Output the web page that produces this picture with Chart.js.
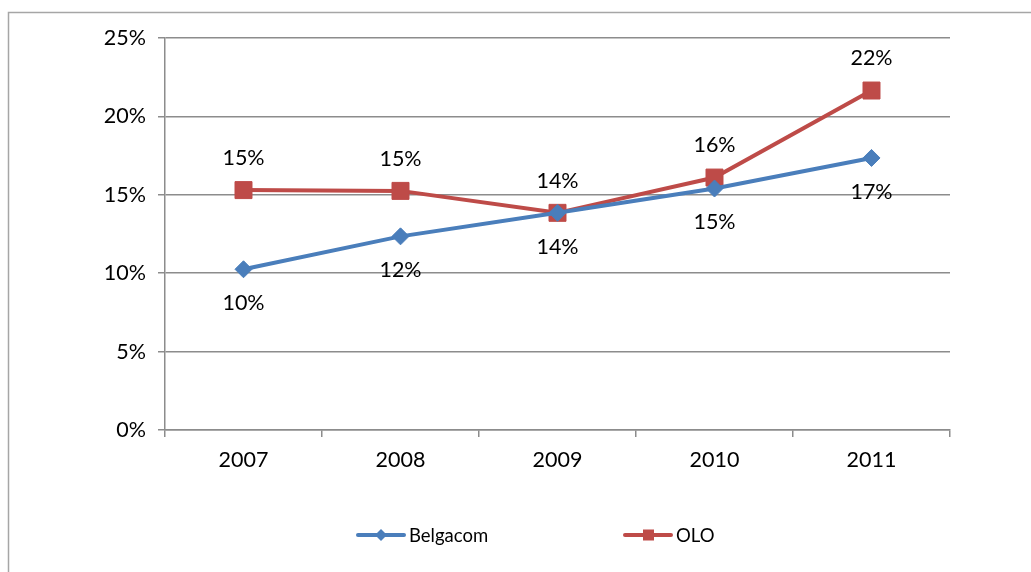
<!DOCTYPE html>
<html>
<head>
<meta charset="utf-8">
<script src="https://cdn.jsdelivr.net/npm/chart.js@4.4.1/dist/chart.umd.min.js"></script>
<style>
  html, body { margin: 0; padding: 0; background: #fff; }
  #wrap { width: 1031px; height: 572px; position: relative; }
</style>
</head>
<body>
<div id="wrap"><canvas id="myChart" width="1031" height="572"></canvas></div>
<script>
var years = ['2007', '2008', '2009', '2010', '2011'];
var belgacom = [10.25, 12.35, 13.85, 15.4, 17.35];
var olo = [15.3, 15.25, 13.85, 16.1, 21.65];
var yTicks = [0, 5, 10, 15, 20, 25];

var FONT = 'Lato, "Open Sans", sans-serif';
var GRID = '#8c8c8c';

// data labels: Belgacom under its points, OLO above
var labelPlugin = {
    id: 'valueLabels',
    afterDatasetsDraw: function (chart) {
        var ctx = chart.ctx;
        ctx.save();
        ctx.font = '21.5px ' + FONT;
        ctx.fillStyle = '#000';
        ctx.textAlign = 'center';
        ctx.textBaseline = 'middle';
        chart.data.datasets.forEach(function (ds, i) {
            var meta = chart.getDatasetMeta(i);
            var dy = i === 0 ? 34 : -32;
            meta.data.forEach(function (pt, j) {
                ctx.fillText(Math.round(ds.data[j]) + '%', pt.x, pt.y + dy);
            });
        });
        ctx.restore();
    }
};

// outer frame + legend with line-and-marker swatches
var framePlugin = {
    id: 'frameLegend',
    afterDraw: function (chart) {
        var ctx = chart.ctx;
        ctx.save();
        ctx.strokeStyle = '#a6a6a6';
        ctx.lineWidth = 1.5;
        ctx.beginPath();
        ctx.moveTo(8.5, 600);
        ctx.lineTo(8.5, 12.5);
        ctx.lineTo(1100, 12.5);
        ctx.stroke();

        var starts = [358, 625];
        var y = 535;
        ctx.font = '18.5px ' + FONT;
        ctx.textBaseline = 'middle';
        ctx.textAlign = 'left';
        chart.data.datasets.forEach(function (ds, i) {
            var x0 = starts[i];
            ctx.strokeStyle = ds.borderColor;
            ctx.lineWidth = 4;
            ctx.lineCap = 'round';
            ctx.beginPath();
            ctx.moveTo(x0, y);
            ctx.lineTo(x0 + 46, y);
            ctx.stroke();
            ctx.fillStyle = ds.pointBackgroundColor;
            ctx.beginPath();
            if (i === 0) {
                ctx.moveTo(x0 + 23, y - 6);
                ctx.lineTo(x0 + 29, y);
                ctx.lineTo(x0 + 23, y + 6);
                ctx.lineTo(x0 + 17, y);
                ctx.closePath();
            } else {
                ctx.rect(x0 + 18, y - 5.5, 11, 11);
            }
            ctx.fill();
            ctx.fillStyle = '#000';
            ctx.fillText(ds.label, x0 + 51, y + 1);
        });
        ctx.restore();
    }
};

var ctx = document.getElementById('myChart').getContext('2d');

var myChart = new Chart(ctx, {
    type: 'line',
    data: {
        labels: years,
        datasets: [{
            label: 'Belgacom',
            data: belgacom,
            borderColor: '#4a7ebb',
            backgroundColor: '#4a7ebb',
            pointBackgroundColor: '#4a7ebb',
            pointBorderColor: '#4a7ebb',
            borderWidth: 4,
            pointStyle: 'rectRot',
            pointRadius: 8.5,
            pointBorderWidth: 1,
            tension: 0,
            fill: false
        }, {
            label: 'OLO',
            data: olo,
            borderColor: '#be4b48',
            backgroundColor: '#be4b48',
            pointBackgroundColor: '#be4b48',
            pointBorderColor: '#be4b48',
            borderWidth: 4,
            pointStyle: 'rect',
            pointRadius: 12,
            pointBorderWidth: 1,
            tension: 0,
            fill: false
        }]
    },
    options: {
        responsive: false,
        animation: false,
        layout: { padding: { left: 0, right: 81, top: 38, bottom: 0 } },
        plugins: {
            legend: { display: false },
            tooltip: { enabled: false }
        },
        scales: {
            x: {
                offset: true,
                grid: {
                    offset: true,
                    drawOnChartArea: false,
                    drawTicks: true,
                    tickLength: 7,
                    color: GRID,
                    lineWidth: 1.5
                },
                border: { color: GRID, width: 1.5 },
                ticks: {
                    color: '#000',
                    font: { family: FONT, size: 21.5 },
                    padding: 10
                },
                afterFit: function (scale) { scale.height = 142; }
            },
            y: {
                min: 0,
                max: 25,
                afterBuildTicks: function (scale) {
                    scale.ticks = yTicks.map(function (v) { return { value: v }; });
                },
                grid: {
                    color: GRID,
                    lineWidth: 1.5,
                    tickLength: 7
                },
                border: { color: GRID, width: 1.5 },
                ticks: {
                    color: '#000',
                    font: { family: FONT, size: 21.5 },
                    padding: 12,
                    callback: function (v) { return v + '%'; }
                },
                afterFit: function (scale) { scale.width = 165; }
            }
        }
    },
    plugins: [labelPlugin, framePlugin]
});
</script>
</body>
</html>
